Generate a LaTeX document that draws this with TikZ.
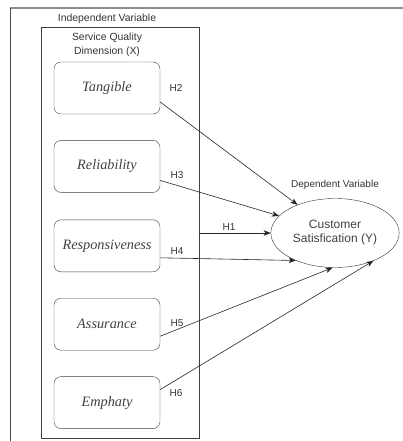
\documentclass[tikz,border=0pt]{standalone}
\usepackage{fontspec}
\setmainfont{Liberation Sans}
\newfontfamily\dimfont{Liberation Serif}
\usetikzlibrary{positioning,shapes.geometric,arrows.meta}
\tikzset{
	dimbox/.style={draw=black!75, rounded corners=7pt, minimum width=106pt, minimum height=52pt, font=\dimfont\itshape\fontsize{14.3}{16}\selectfont, text=black!75},
	hyp/.style={font=\fontsize{10}{12}\selectfont, text=black!80},
	arr/.style={->, black!85, line width=0.6pt},
}
\begin{document}
\begin{tikzpicture}[>={Stealth[length=7pt, width=5.5pt, inset=1.8pt]}, x=1pt, y=-1pt, node distance=26pt]
		\useasboundingbox (0,0) rectangle (403,441);
		\draw[black!45, line width=1.2pt] (403,8) -- (10,8);
		\draw[black!70] (10,8) -- (10,441);
		\node[hyp, font=\fontsize{10.4}{12}\selectfont] (indeplbl) at (107,19) {Independent Variable};
		\node[draw=black!75, minimum width=158pt, minimum height=411pt] (indep) at (120,232.5) {};
		\node[hyp, align=center, font=\fontsize{10.4}{14}\selectfont] (dimlbl) at (107,45) {Service Quality\\Dimension (X)};
		\node[dimbox] (tang) at (107,88) {Tangible};
		\node[dimbox, below=of tang] (reli) {Reliability};
		\node[dimbox, below=27pt of reli] (resp) {Responsiveness};
		\node[dimbox, below=of resp] (assu) {Assurance};
		\node[dimbox, below=of assu] (emph) {Emphaty};
		\node[draw=black!80, ellipse, minimum width=104pt, minimum height=69pt, align=center, font=\fontsize{12}{14}\selectfont, text=black!75] (sat) at (335,233) {Customer\\Satisfication (Y)};
		\node[hyp] (deplbl) at (335,185) {Dependent Variable};
		\draw[arr] ([yshift=-14pt]tang.east) -- (sat.143);
		\draw[arr] ([yshift=-14pt]reli.east) -- (sat.163);
		\draw[arr] (indep.east |- sat.west) -- (sat.west);
		\draw[arr] ([yshift=-12pt]resp.east) -- (sat.215);
		\draw[arr] ([yshift=-12pt]assu.east) -- (sat.266);
		\draw[arr] ([yshift=13pt]emph.east) -- (sat.324);
		\node[hyp] (h1) at (229,227) {H1};
		\node[hyp] (h2) at (176,88) {H2};
		\node[hyp] (h3) at (177,175) {H3};
		\node[hyp] (h4) at (177,251) {H4};
		\node[hyp] (h5) at (177,323) {H5};
		\node[hyp] (h6) at (176,393) {H6};
\end{tikzpicture}
\end{document}
